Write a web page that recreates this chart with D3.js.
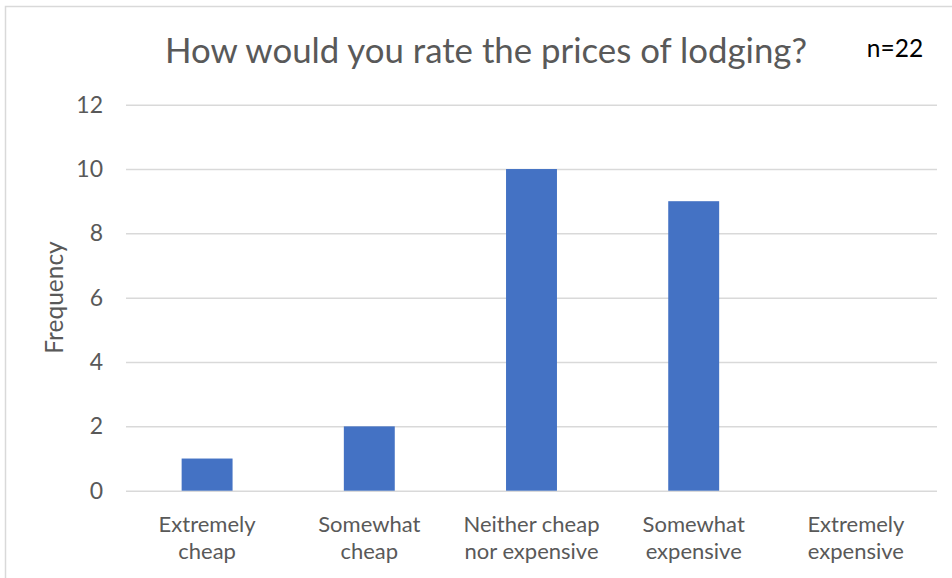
<!DOCTYPE html>
<html>
<head>
<meta charset="utf-8">
<script src="https://cdn.jsdelivr.net/npm/d3@7"></script>
<style>
  html, body { margin: 0; padding: 0; background: #fff; }
  svg { display: block; }
  text { font-family: Lato, "Open Sans", sans-serif; }
</style>
</head>
<body>
<svg id="chart" width="952" height="578"></svg>
<script>
// Survey responses: price rating of lodging
const categories = [
  ["Extremely", "cheap"],
  ["Somewhat", "cheap"],
  ["Neither cheap", "nor expensive"],
  ["Somewhat", "expensive"],
  ["Extremely", "expensive"]
];
const frequencies = [1, 2, 10, 9, 0];
const yTicks = [0, 2, 4, 6, 8, 10, 12];
const titleText = "How would you rate the prices of lodging?";
const sampleNote = "n=22";
const yLabel = "Frequency";

const svg = d3.select("#chart");
const plot = { left: 126, right: 937, top: 104.7, bottom: 490.7 };

// chart frame (runs off the right and bottom edges)
svg.append("rect")
  .attr("x", 5.5).attr("y", 6.5)
  .attr("width", 1000).attr("height", 1000)
  .attr("fill", "none").attr("stroke", "#D9D9D9").attr("stroke-width", 1.5);

const x = d3.scaleBand()
  .domain(d3.range(categories.length))
  .range([plot.left, plot.right])
  .paddingInner(0.686).paddingOuter(0.343);

const y = d3.scaleLinear().domain([0, 12]).range([plot.bottom, plot.top]);

// gridlines and value labels
const yAxis = d3.axisLeft(y).tickValues(yTicks)
  .tickSize(-(plot.right - plot.left)).tickPadding(23);
const gy = svg.append("g").attr("transform", `translate(${plot.left},0)`).call(yAxis);
gy.select(".domain").remove();
gy.selectAll(".tick line").attr("stroke", "#D9D9D9").attr("stroke-width", 1.5);
gy.selectAll(".tick text")
  .attr("fill", "#595959").attr("font-size", 23)
  .style("font-family", "Lato, 'Open Sans', sans-serif");

// bars
svg.append("g").selectAll("rect")
  .data(frequencies)
  .join("rect")
  .attr("x", (d, i) => x(i))
  .attr("width", x.bandwidth())
  .attr("y", d => y(d))
  .attr("height", d => y(0) - y(d))
  .attr("fill", "#4472C4");

// category labels (two lines each)
const xl = svg.append("g").selectAll("text")
  .data(categories)
  .join("text")
  .attr("text-anchor", "middle")
  .attr("fill", "#595959")
  .attr("font-size", 22)
  .attr("x", (d, i) => x(i) + x.bandwidth() / 2)
  .attr("y", 532);
xl.selectAll("tspan")
  .data(d => d)
  .join("tspan")
  .attr("x", function () { return this.parentNode.getAttribute("x"); })
  .attr("dy", (d, i) => i === 0 ? 0 : 27)
  .text(d => d);

// axis title
svg.append("text")
  .attr("transform", "translate(63,297.5) rotate(-90)")
  .attr("text-anchor", "middle")
  .attr("fill", "#595959")
  .attr("font-size", 24.5)
  .text(yLabel);

// chart title
svg.append("text")
  .attr("x", 486).attr("y", 63)
  .attr("text-anchor", "middle")
  .attr("fill", "#595959")
  .attr("font-size", 34.8)
  .text(titleText);

svg.append("text")
  .attr("x", 895).attr("y", 57)
  .attr("text-anchor", "middle")
  .attr("fill", "#000")
  .attr("font-size", 24.5)
  .text(sampleNote);
</script>
</body>
</html>
